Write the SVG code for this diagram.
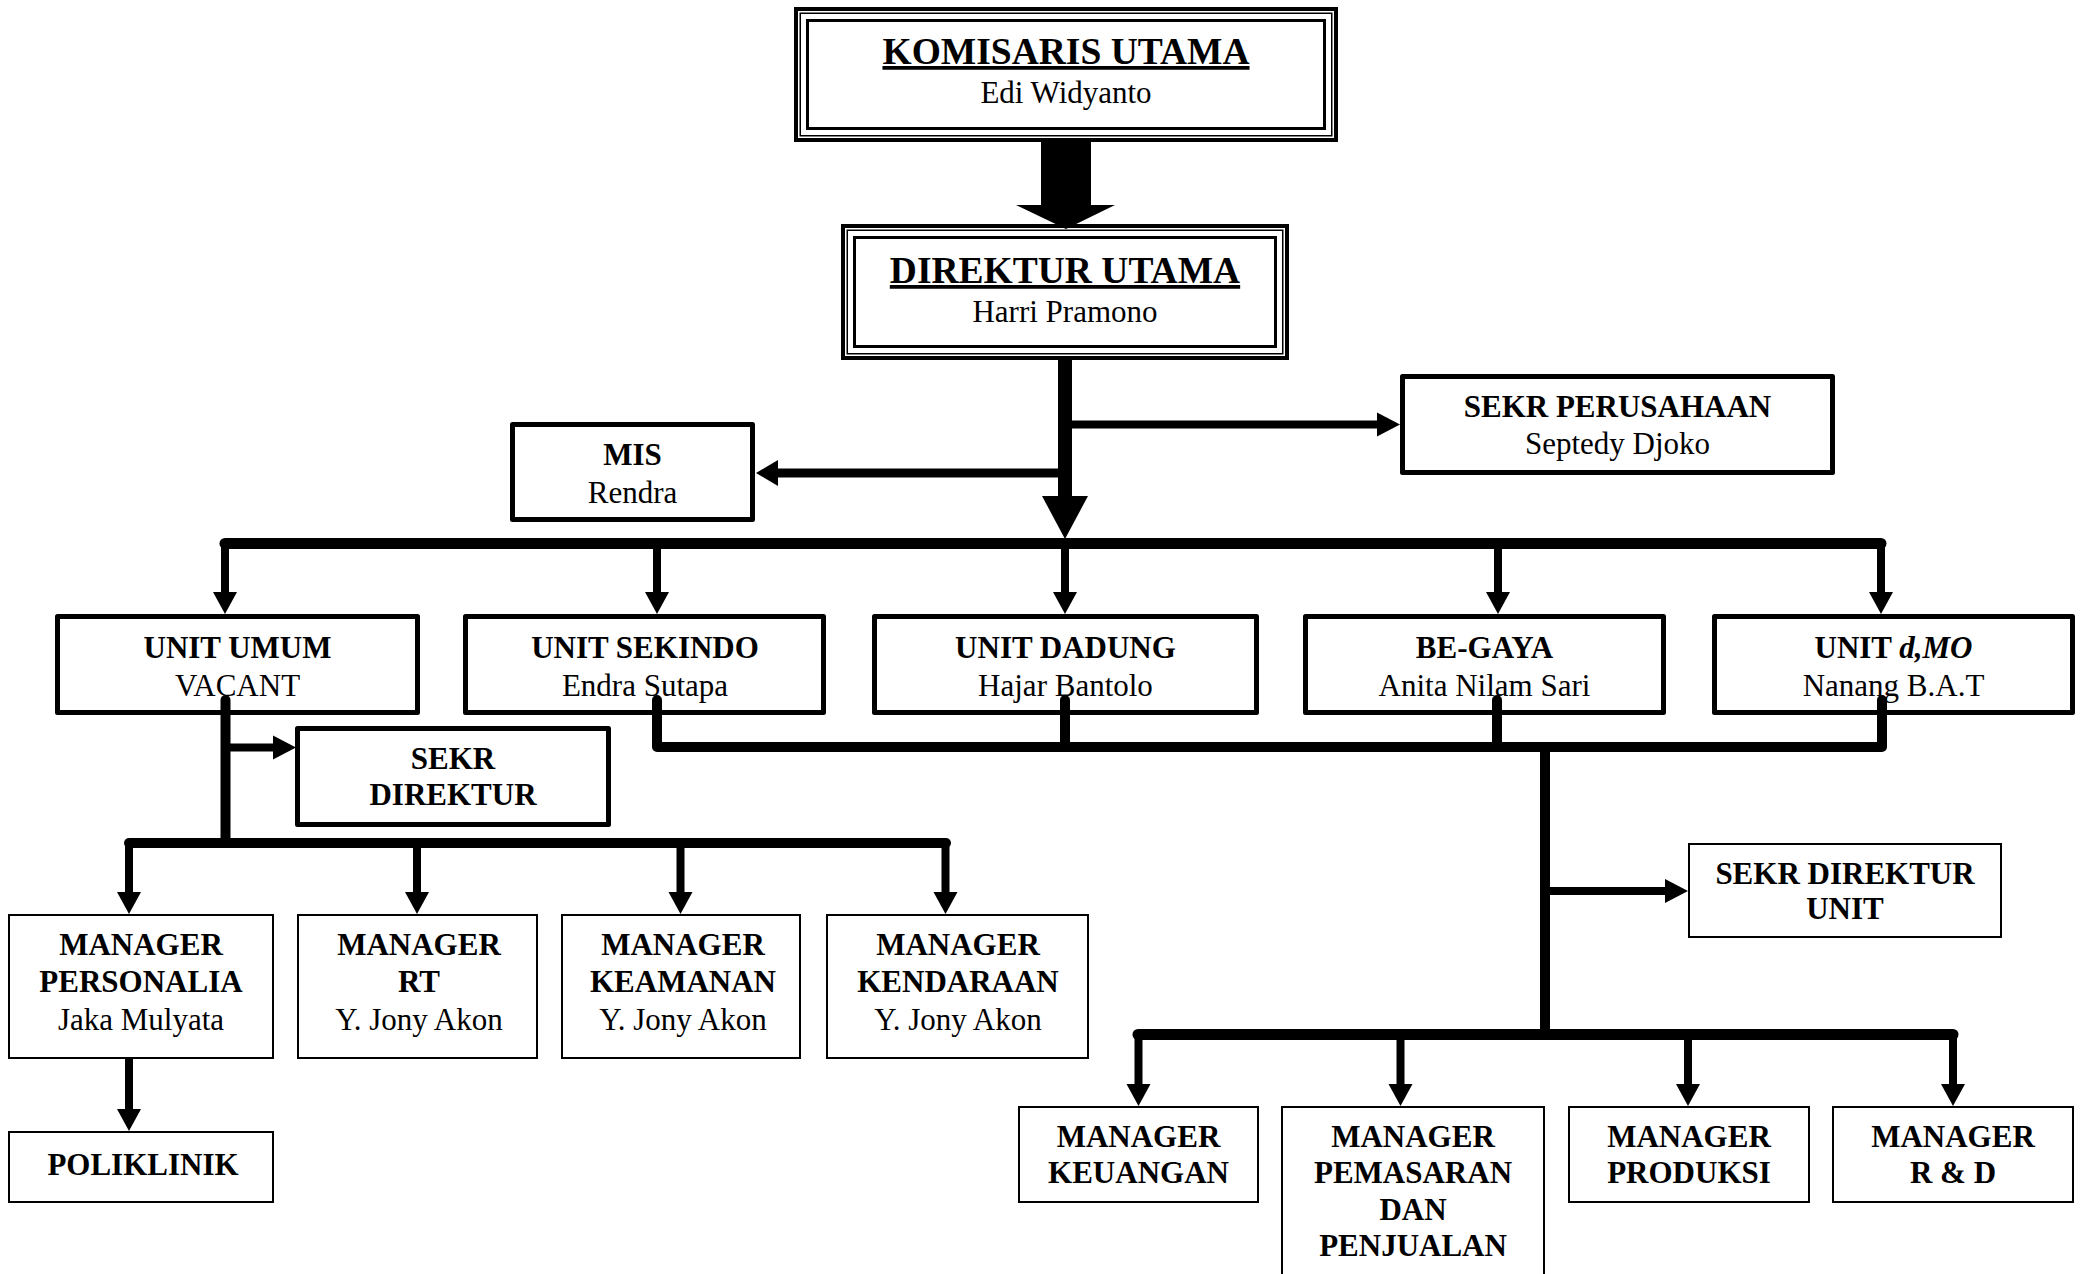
<svg xmlns="http://www.w3.org/2000/svg" xmlns:xlink="http://www.w3.org/1999/xlink" width="2087" height="1274" viewBox="0 0 2087 1274">
<style>
.bg{fill:#fff}
.o1{fill:#fff;stroke:#000;stroke-width:4}
.o2{fill:none;stroke:#000;stroke-width:1.5}
.o3{fill:none;stroke:#000;stroke-width:3}
.thick{fill:#fff;stroke:#000;stroke-width:5;stroke-linejoin:round}
.thin{fill:#fff;stroke:#000;stroke-width:2}
.t{font-family:"Liberation Serif","Times New Roman",serif;font-size:31px;text-anchor:middle;fill:#000}
.b{font-weight:bold}
.big{font-size:37.5px;font-weight:bold;text-decoration:underline}
.ln{fill:none;stroke:#000;stroke-linecap:butt}
.rl{fill:none;stroke:#000;stroke-linecap:round;stroke-linejoin:round}
</style>
<defs>
<polygon id="hd" points="-12,-22 12,-22 0,0"/>
<polygon id="hr" points="-23,-12 -23,12 0,0"/>
<polygon id="hl" points="22,-13 22,13 0,0"/>
</defs>
<rect class="bg" x="0" y="0" width="2087" height="1274"/>

<g id="komisaris">
<rect class="o1" x="796" y="9" width="540" height="131"/>
<rect class="o2" x="800.25" y="13.25" width="531.5" height="122.5"/>
<rect class="o3" x="807.5" y="20.5" width="517" height="108"/>
<text class="t big" x="1066" y="64">KOMISARIS UTAMA</text>
<text class="t" x="1066" y="102.5">Edi Widyanto</text>
</g>

<g id="direktur">
<rect class="o1" x="843" y="226" width="444" height="132"/>
<rect class="o2" x="847.25" y="230.25" width="435.5" height="123.5"/>
<rect class="o3" x="854.5" y="237.5" width="421" height="109"/>
<text class="t big" x="1065" y="283">DIREKTUR UTAMA</text>
<text class="t" x="1065" y="321.5">Harri Pramono</text>
</g>

<g id="mis">
<rect class="thick" x="512.5" y="424.5" width="240" height="95"/>
<text class="t b" x="632.5" y="465">MIS</text>
<text class="t" x="632.5" y="503">Rendra</text>
</g>

<g id="sekr-perusahaan">
<rect class="thick" x="1402.5" y="376.5" width="430" height="96"/>
<text class="t b" x="1617.5" y="417">SEKR PERUSAHAAN</text>
<text class="t" x="1617.5" y="454">Septedy Djoko</text>
</g>

<g id="unit-umum">
<rect class="thick" x="57.5" y="616.5" width="360" height="96"/>
<text class="t b" x="237.5" y="657.5">UNIT UMUM</text>
<text class="t" x="237.5" y="695.5">VACANT</text>
</g>

<g id="unit-sekindo">
<rect class="thick" x="465.5" y="616.5" width="358" height="96"/>
<text class="t b" x="645" y="657.5">UNIT SEKINDO</text>
<text class="t" x="645" y="695.5">Endra Sutapa</text>
</g>

<g id="unit-dadung">
<rect class="thick" x="874.5" y="616.5" width="382" height="96"/>
<text class="t b" x="1065.5" y="657.5">UNIT DADUNG</text>
<text class="t" x="1065.5" y="695.5">Hajar Bantolo</text>
</g>

<g id="be-gaya">
<rect class="thick" x="1305.5" y="616.5" width="358" height="96"/>
<text class="t b" x="1484.5" y="657.5">BE-GAYA</text>
<text class="t" x="1484.5" y="695.5">Anita Nilam Sari</text>
</g>

<g id="unit-dmo">
<rect class="thick" x="1714.5" y="616.5" width="358" height="96"/>
<text class="t b" x="1893.5" y="657.5">UNIT <tspan font-style="italic">d,MO</tspan></text>
<text class="t" x="1893.5" y="695.5">Nanang B.A.T</text>
</g>

<g id="sekr-direktur">
<rect class="thick" x="297.5" y="728.5" width="311" height="96"/>
<text class="t b" x="453" y="769">SEKR</text>
<text class="t b" x="453" y="805">DIREKTUR</text>
</g>

<g id="sekr-direktur-unit">
<rect class="thin" x="1689" y="844" width="312" height="93"/>
<text class="t b" x="1845" y="883.5">SEKR DIREKTUR</text>
<text class="t b" x="1845" y="918.5">UNIT</text>
</g>

<g id="mgr-personalia">
<rect class="thin" x="9" y="915" width="264" height="143"/>
<text class="t b" x="141" y="955">MANAGER</text>
<text class="t b" x="141" y="992">PERSONALIA</text>
<text class="t" x="141" y="1030">Jaka Mulyata</text>
</g>

<g id="mgr-rt">
<rect class="thin" x="298" y="915" width="239" height="143"/>
<text class="t b" x="419" y="955">MANAGER</text>
<text class="t b" x="419" y="992">RT</text>
<text class="t" x="419" y="1030">Y. Jony Akon</text>
</g>

<g id="mgr-keamanan">
<rect class="thin" x="562" y="915" width="238" height="143"/>
<text class="t b" x="683" y="955">MANAGER</text>
<text class="t b" x="683" y="992">KEAMANAN</text>
<text class="t" x="683" y="1030">Y. Jony Akon</text>
</g>

<g id="mgr-kendaraan">
<rect class="thin" x="827" y="915" width="261" height="143"/>
<text class="t b" x="958" y="955">MANAGER</text>
<text class="t b" x="958" y="992">KENDARAAN</text>
<text class="t" x="958" y="1030">Y. Jony Akon</text>
</g>

<g id="poliklinik">
<rect class="thin" x="9" y="1132" width="264" height="70"/>
<text class="t b" x="143" y="1175">POLIKLINIK</text>
</g>

<g id="mgr-keuangan">
<rect class="thin" x="1019" y="1107" width="239" height="95"/>
<text class="t b" x="1138.5" y="1147">MANAGER</text>
<text class="t b" x="1138.5" y="1183">KEUANGAN</text>
</g>

<g id="mgr-pemasaran">
<rect class="thin" x="1282" y="1107" width="262" height="180"/>
<text class="t b" x="1413" y="1147">MANAGER</text>
<text class="t b" x="1413" y="1183">PEMASARAN</text>
<text class="t b" x="1413" y="1220">DAN</text>
<text class="t b" x="1413" y="1256">PENJUALAN</text>
</g>

<g id="mgr-produksi">
<rect class="thin" x="1569" y="1107" width="240" height="95"/>
<text class="t b" x="1689" y="1147">MANAGER</text>
<text class="t b" x="1689" y="1183">PRODUKSI</text>
</g>

<g id="mgr-rnd">
<rect class="thin" x="1833" y="1107" width="240" height="95"/>
<text class="t b" x="1953" y="1147">MANAGER</text>
<text class="t b" x="1953" y="1183">R &amp; D</text>
</g>

<g id="connectors">
<polygon points="1041,142 1091,142 1091,205 1115,205 1066,229 1016,205 1041,205"/>
<line class="ln" x1="1065" y1="358" x2="1065" y2="500" stroke-width="14"/>
<polygon points="1042,496 1088,496 1065,539"/>
<line class="ln" x1="1065" y1="424.5" x2="1378" y2="424.5" stroke-width="8"/>
<use xlink:href="#hr" x="1400" y="424.5"/>
<line class="ln" x1="1065" y1="473" x2="777" y2="473" stroke-width="9"/>
<use xlink:href="#hl" x="756" y="473"/>
<line class="rl" x1="225" y1="543.5" x2="1881" y2="543.5" stroke-width="11"/>
<path class="ln" d="M225,543 V594 M657,543 V594 M1065,543 V594 M1498,543 V594 M1881,543 V594" stroke-width="8"/>
<use xlink:href="#hd" x="225" y="614"/>
<use xlink:href="#hd" x="657" y="614"/>
<use xlink:href="#hd" x="1065" y="614"/>
<use xlink:href="#hd" x="1498" y="614"/>
<use xlink:href="#hd" x="1881" y="614"/>

<path class="rl" d="M657,700 V747 H1882 M1065,700 V747 M1497,700 V747 M1882,700 V747" stroke-width="10"/>
<line class="ln" x1="1545" y1="747" x2="1545" y2="1034" stroke-width="10"/>
<line class="ln" x1="1545" y1="891" x2="1667" y2="891" stroke-width="8"/>
<use xlink:href="#hr" x="1688" y="891"/>
<line class="rl" x1="1138" y1="1034.5" x2="1953" y2="1034.5" stroke-width="11"/>
<path class="ln" d="M1138.5,1034 V1085 M1400.5,1034 V1085 M1688,1034 V1085 M1953,1034 V1085" stroke-width="8"/>
<use xlink:href="#hd" x="1138.5" y="1106"/>
<use xlink:href="#hd" x="1400.5" y="1106"/>
<use xlink:href="#hd" x="1688" y="1106"/>
<use xlink:href="#hd" x="1953" y="1106"/>

<line class="rl" x1="225.5" y1="700" x2="225.5" y2="843" stroke-width="10"/>
<line class="ln" x1="225" y1="747.5" x2="274" y2="747.5" stroke-width="8"/>
<use xlink:href="#hr" x="296" y="747.5"/>
<line class="rl" x1="129" y1="843" x2="946" y2="843" stroke-width="10"/>
<path class="ln" d="M129,843 V893 M417,843 V893 M680.5,843 V893 M945.5,843 V893" stroke-width="8"/>
<use xlink:href="#hd" x="129" y="914"/>
<use xlink:href="#hd" x="417" y="914"/>
<use xlink:href="#hd" x="680.5" y="914"/>
<use xlink:href="#hd" x="945.5" y="914"/>
<line class="ln" x1="129" y1="1059" x2="129" y2="1110" stroke-width="8"/>
<use xlink:href="#hd" x="129" y="1131"/>
</g>
</svg>
